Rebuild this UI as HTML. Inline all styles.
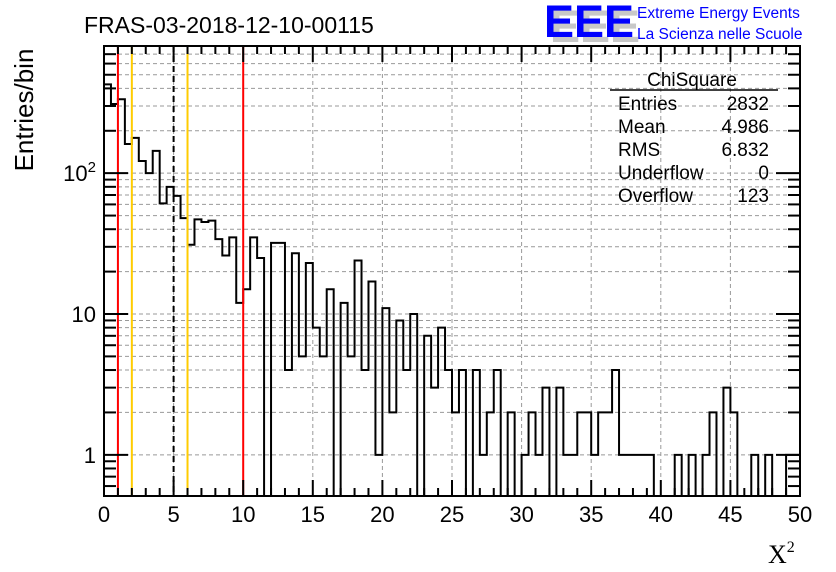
<!DOCTYPE html>
<html><head><meta charset="utf-8"><style>
body{margin:0;background:#fff;}
svg{display:block;font-family:"Liberation Sans",sans-serif;}
</style></head><body>
<svg id="chart" width="836" height="572" viewBox="0 0 836 572" xmlns="http://www.w3.org/2000/svg">
<rect width="836" height="572" fill="#fff"/>
<text x="84" y="33" font-size="23" fill="#000">FRAS-03-2018-12-10-00115</text>
<g>
<text x="550" y="42" font-size="45" font-weight="bold" fill="#c8c8c8">EEE</text>
<text x="544" y="37" font-size="45" font-weight="bold" fill="#0000ff">EEE</text>
<text x="637" y="18" font-size="15.5" fill="#0000ff">Extreme Energy Events</text>
<text x="637" y="39" font-size="15.5" fill="#0000ff">La Scienza nelle Scuole</text>
</g>
<g id="grid"></g>
<g id="marks"></g>
<g id="axes"></g>
<text transform="translate(33,110) rotate(-90)" text-anchor="middle" font-size="26">Entries/bin</text>
<text x="768" y="563" font-size="26" font-family="Liberation Serif,serif">X<tspan font-size="16" dy="-11">2</tspan></text>
<g font-size="19">
<text x="692" y="86" text-anchor="middle">ChiSquare</text>
<line x1="610" y1="90" x2="778" y2="90" stroke="#000" stroke-width="1.5"/>
<text x="618" y="110">Entries</text><text x="769" y="110" text-anchor="end">2832</text>
<text x="618" y="133">Mean</text><text x="769" y="133" text-anchor="end">4.986</text>
<text x="618" y="156">RMS</text><text x="769" y="156" text-anchor="end">6.832</text>
<text x="618" y="179">Underflow</text><text x="769" y="179" text-anchor="end">0</text>
<text x="618" y="202">Overflow</text><text x="769" y="202" text-anchor="end">123</text>
</g>
</svg>
<script>
const binWidth = 0.5;
const counts = [427,310,335,161,178,122,100,144,61,80,
69,48,31,47,45,46,34,26,35,12,
15,35,25,0,32,32,4,27,5,23,
8,5,15,0,12,5,24,4,17,1,
11,2,9,4,10,0,7,3,8,4,
2,4,0,4,1,2,4,0,2,0,
1,2,1,3,0,3,1,1,2,2,
1,2,2,4,1,1,1,1,1,0,
0,0,1,0,1,0,1,2,0,3,
2,0,0,1,0,1,0,0,1,1];
const xTicks = [0,5,10,15,20,25,30,35,40,45,50];
const yTickBases = ["1","10","10"];
const yTickExps = ["","","2"];
const yTickValues = [1,10,100];
const redCuts = [1,10];
const yellowCuts = [2,6];
const dashedCuts = [5];

const L=104,R=800,T=46,B=496;
const xMin=0,xMax=50,yMin=0.51,yMax=800;
const NS="http://www.w3.org/2000/svg";
function X(v){return L+(v-xMin)/(xMax-xMin)*(R-L);}
function Y(v){if(v<=0)return B;const y=B-(Math.log10(v)-Math.log10(yMin))/(Math.log10(yMax)-Math.log10(yMin))*(B-T);return Math.max(T,Math.min(B,y));}
function mk(tag,attrs,parent){const e=document.createElementNS(NS,tag);for(const k in attrs)e.setAttribute(k,attrs[k]);parent.appendChild(e);return e;}
const grid=document.getElementById('grid'),marks=document.getElementById('marks'),axes=document.getElementById('axes');

for(const t of xTicks){if(t===xMin||t===xMax)continue;
 const g=mk('line',{x1:X(t),x2:X(t),y1:T,y2:B,stroke:'#999','stroke-width':1,'stroke-dasharray':'4,3'},grid);
 
 }
for(let d=0;d<3;d++){for(let m=1;m<10;m++){const v=m*Math.pow(10,d);if(v<yMin||v>yMax)continue;
 const g=mk('line',{x1:L,x2:R,y1:Y(v),y2:Y(v),stroke:'#999','stroke-width':1,'stroke-dasharray':'4,3'},grid);
 
 }}

let d='M'+X(0)+','+B;
counts.forEach((c,i)=>{const x0=X(i*binWidth),x1=X((i+1)*binWidth),y=Y(c);d+=' L'+x0+','+y+' L'+x1+','+y;});
d+=' L'+X(counts.length*binWidth)+','+B;
const hist=mk('path',{d:d,fill:'none',stroke:'#000','stroke-width':2},marks);



function cut(v,color,dash,name){const l=mk('line',{x1:X(v),x2:X(v),y1:T,y2:B,stroke:color,'stroke-width':2},marks);if(dash)l.setAttribute('stroke-dasharray',dash);
 
 }
redCuts.forEach(v=>cut(v,'#ff0000',null,'red-cut-line'));
yellowCuts.forEach(v=>cut(v,'#ffcc00',null,'yellow-cut-line'));
dashedCuts.forEach(v=>cut(v,'#000','6,4','dashed-cut-line'));

const fr=mk('rect',{x:L,y:T,width:R-L,height:B-T,fill:'none',stroke:'#000','stroke-width':2},axes);


for(let v=xMin;v<=xMax;v+=1){const major=v%5===0,len=major?16:8;
 mk('line',{x1:X(v),x2:X(v),y1:B,y2:B-len,stroke:'#000','stroke-width':2},axes);
 mk('line',{x1:X(v),x2:X(v),y1:T,y2:T+len,stroke:'#000','stroke-width':2},axes);}
xTicks.forEach(t=>{const tx=mk('text',{x:X(t),y:522,'text-anchor':'middle','font-size':22},axes);tx.textContent=t;
 
 });
for(let dd=-1;dd<3;dd++){for(let m=1;m<10;m++){const v=m*Math.pow(10,dd);if(v<yMin||v>yMax)continue;const len=m===1?24:12;
 mk('line',{x1:L,x2:L+len,y1:Y(v),y2:Y(v),stroke:'#000','stroke-width':2},axes);
 mk('line',{x1:R,x2:R-len,y1:Y(v),y2:Y(v),stroke:'#000','stroke-width':2},axes);}}
yTickValues.forEach((v,i)=>{const tx=mk('text',{x:L-8,y:Y(v)+8,'text-anchor':'end','font-size':22},axes);
 tx.textContent=yTickBases[i];
 if(yTickExps[i]){const s=mk('tspan',{'font-size':15,dy:-9},tx);s.textContent=yTickExps[i];}
 
 });
</script>
</body></html>
